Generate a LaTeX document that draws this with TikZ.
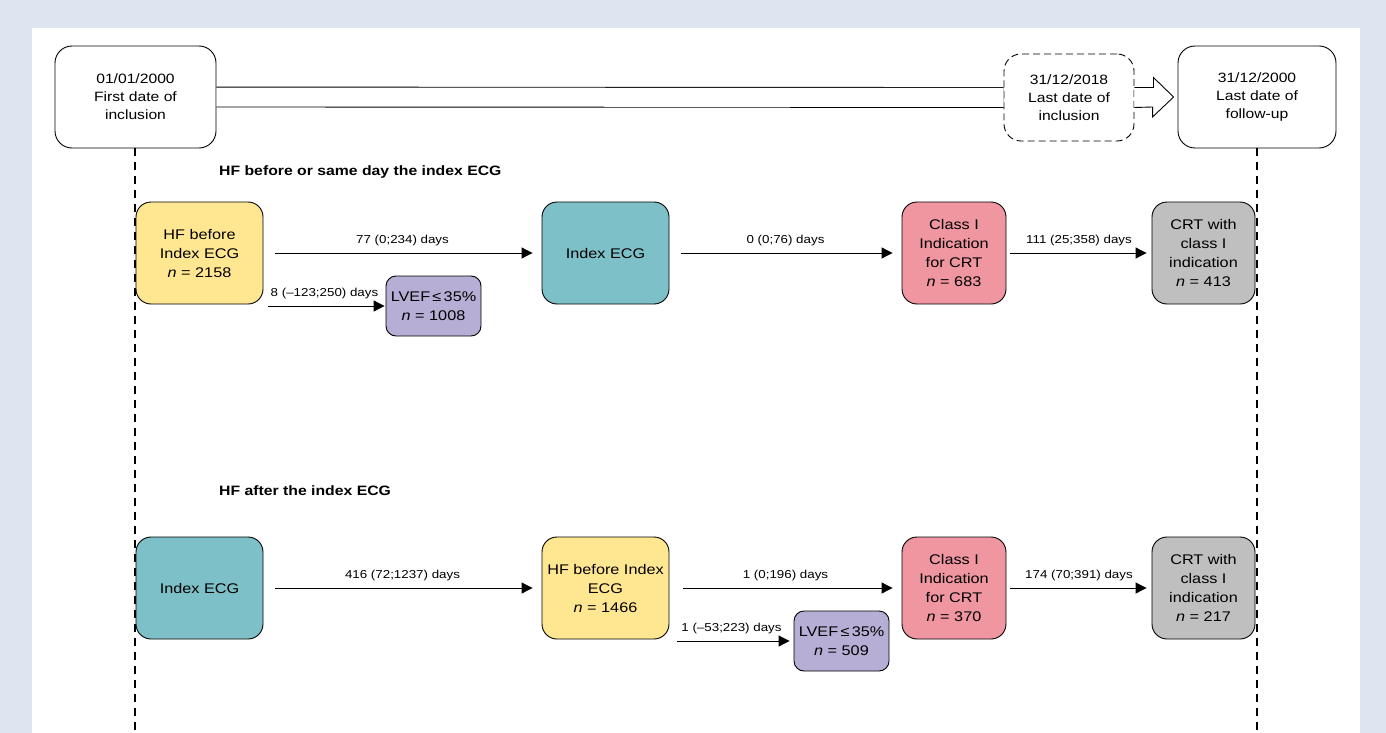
\documentclass[tikz,border=0pt]{standalone}
\usepackage{fontspec}
\setmainfont{Liberation Sans}[FakeStretch=1.16]
\usetikzlibrary{positioning,arrows.meta,calc}
\definecolor{frameblue}{RGB}{221,230,240}
\definecolor{hfyellow}{RGB}{255,231,146}
\definecolor{ecgteal}{RGB}{126,192,200}
\definecolor{crtpink}{RGB}{239,150,161}
\definecolor{lvefpurple}{RGB}{182,174,212}
\definecolor{crtgrey}{RGB}{191,191,191}

\begin{document}
\begin{tikzpicture}[x=1pt,y=-1pt,
    datebox/.style={draw,line width=0.9pt,rounded corners=17pt,fill=white,align=center,
      inner sep=0pt,font=\fontsize{13.5}{18}\selectfont},
    stagebox/.style={draw,line width=0.9pt,rounded corners=15pt,align=center,
      inner sep=0pt,minimum height=102pt,font=\fontsize{14}{19}\selectfont},
    smallbox/.style={draw,line width=0.9pt,rounded corners=10pt,align=center,
      inner sep=0pt,minimum width=95pt,minimum height=60pt,fill=lvefpurple,
      font=\fontsize{14}{19}\selectfont},
    flow/.style={line width=1pt,-{Triangle[length=11pt,width=11pt]}},
    days/.style={midway,above=3pt,font=\fontsize{11.5}{13}\selectfont},
    rowtitle/.style={anchor=west,inner sep=0pt,font=\fontsize{13.6}{15}\selectfont\bfseries},
    timeline/.style={line width=1.6pt,dash pattern=on 8pt off 6pt}]
  % frame
  \fill[frameblue] (0,0) rectangle (1386,733);
  \fill[white] (32,28) rectangle (1360,733);
  \useasboundingbox (0,0) rectangle (1386,733);

  % study period
  \node[datebox,minimum width=161pt,minimum height=102pt] (first) at (135.5,97)
    {01/01/2000\\First date of\\inclusion};
  \node[datebox,dash pattern=on 7pt off 4pt,minimum width=130pt,minimum height=87pt] (lastinc)
    at (1069,97.5) {31/12/2018\\Last date of\\inclusion};
  \node[datebox,minimum width=158pt,minimum height=102pt] (lastfu) at (1257,97)
    {31/12/2000\\Last date of\\follow-up};
  \draw[line width=0.9pt,double distance=19pt] (first) -- (lastinc);
  \draw[line width=0.9pt,fill=white] ([yshift=10pt]lastinc.east) -- ++(19pt,0pt) -- ++(0pt,10pt)
    -- ([xshift=-4pt]lastfu.west) -- ++(-21pt,-20pt) -- ++(0pt,10pt)
    -- ([yshift=-10pt]lastinc.east);
  \draw[timeline] ([xshift=-0.5pt]first.south) -- (135,733);
  \draw[timeline] (lastfu.south) -- (1257,733);

  % HF before or same day
  \node[rowtitle] (title1) at (219,172) {HF before or same day the index ECG};
  \node[stagebox,fill=hfyellow,minimum width=127pt] (hf1) at (199.5,253)
    {HF before\\Index ECG\\\textit{n} = 2158};
  \node[stagebox,fill=ecgteal,minimum width=127pt] (ecg1) at (605.5,253) {Index ECG};
  \node[stagebox,fill=crtpink,minimum width=104pt] (ind1) at (954,253)
    {Class I\\Indication\\for CRT\\\textit{n} = 683};
  \node[stagebox,fill=crtgrey,minimum width=103pt] (crt1) at (1203.5,253)
    {CRT with\\class I\\indication\\\textit{n} = 413};
  \node[smallbox] (lvef1) at (433.5,306) {LVEF\,≤\,35\%\\\textit{n} = 1008};
  \draw[flow,shorten <=12pt,shorten >=9pt] (hf1) -- (ecg1) node[days] {77 (0;234) days};
  \draw[flow,shorten <=12pt,shorten >=9pt] (ecg1) -- (ind1) node[days] {0 (0;76) days};
  \draw[flow,shorten <=4pt,shorten >=5pt] (ind1) -- (crt1) node[days] {111 (25;358) days};
  \draw[flow,shorten <=5pt,shorten >=1pt] (hf1.east |- lvef1.west) -- (lvef1.west)
    node[days] {8 (–123;250) days};

  % HF after
  \node[rowtitle] (title2) at (219,491) {HF after the index ECG};
  \node[stagebox,fill=ecgteal,minimum width=127pt] (ecg2) at (199.5,588) {Index ECG};
  \node[stagebox,fill=hfyellow,minimum width=127pt] (hf2) at (605.5,588)
    {HF before Index\\ECG\\\textit{n} = 1466};
  \node[stagebox,fill=crtpink,minimum width=104pt] (ind2) at (954,588)
    {Class I\\Indication\\for CRT\\\textit{n} = 370};
  \node[stagebox,fill=crtgrey,minimum width=103pt] (crt2) at (1203.5,588)
    {CRT with\\class I\\indication\\\textit{n} = 217};
  \node[smallbox] (lvef2) at (841.5,641) {LVEF\,≤\,35\%\\\textit{n} = 509};
  \draw[flow,shorten <=12pt,shorten >=9pt] (ecg2) -- (hf2) node[days] {416 (72;1237) days};
  \draw[flow,shorten <=14pt,shorten >=9pt] (hf2) -- (ind2) node[days] {1 (0;196) days};
  \draw[flow,shorten <=4pt,shorten >=5pt] (ind2) -- (crt2) node[days] {174 (70;391) days};
  \draw[flow,shorten <=8pt,shorten >=4pt] (hf2.east |- lvef2.west) -- (lvef2.west)
    node[days] {1 (–53;223) days};
\end{tikzpicture}
\end{document}
